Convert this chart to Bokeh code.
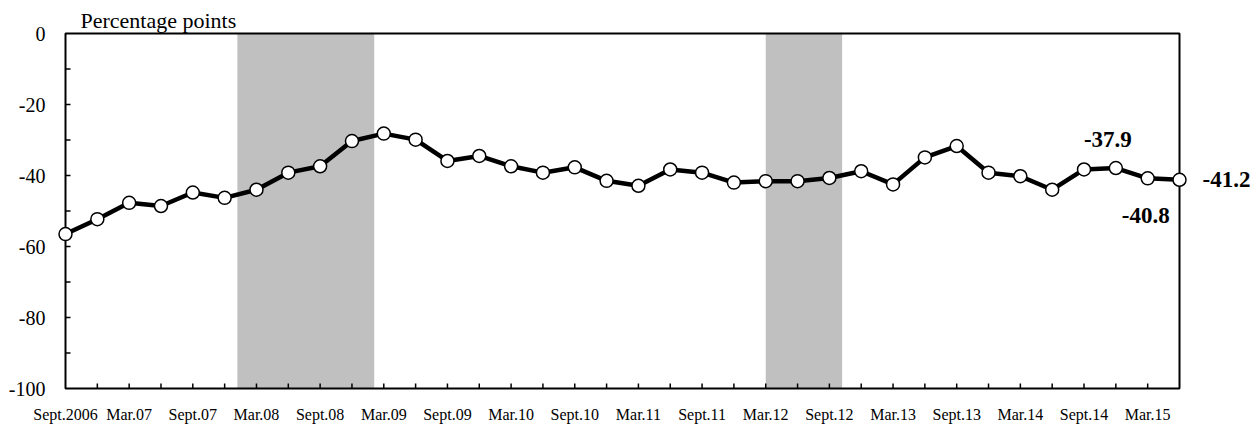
from math import pi

from bokeh.plotting import figure
from bokeh.models import ColumnDataSource, Range1d
from bokeh.core.properties import value
from bokeh.embed import file_html
from bokeh.resources import INLINE

# quarterly, Sept.2006 .. June 2015
tick_labels = ["Sept.2006", "Mar.07", "Sept.07", "Mar.08", "Sept.08", "Mar.09",
               "Sept.09", "Mar.10", "Sept.10", "Mar.11", "Sept.11", "Mar.12",
               "Sept.12", "Mar.13", "Sept.13", "Mar.14", "Sept.14", "Mar.15"]
values = [-56.5, -52.3, -47.7, -48.6, -44.8, -46.3, -44.0, -39.2, -37.4, -30.3,
          -28.2, -29.9, -35.9, -34.5, -37.4, -39.2, -37.7, -41.5, -42.9, -38.3,
          -39.2, -42.0, -41.6, -41.6, -40.7, -38.8, -42.5, -34.9, -31.7, -39.2,
          -40.2, -44.0, -38.3, -37.9, -40.8, -41.2]
# shaded periods, in quarters from Sept.2006
shade_start = [5.4, 22.0]
shade_end = [9.7, 24.4]
y_ticks = [-100, -80, -60, -40, -20, 0]

FONT = value("Liberation Serif")
W, H = 1250, 428
# plot box in pixels (left, right, top, bottom)
BL, BR, BT, BB = 65, 1179, 33, 388

n = len(values)
xs = list(range(n))
y_lo, y_hi = y_ticks[0], y_ticks[-1]

# axes are drawn by hand so nothing at the box edge gets clipped
ppx = (BR - BL) / (n - 1)
ppy = (BB - BT) / (y_hi - y_lo)
x_range = Range1d(-BL / ppx, (n - 1) + (W - BR) / ppx)
y_range = Range1d(y_lo - (H - BB) / ppy, y_hi + BT / ppy)

p = figure(width=W, height=H, output_backend="svg", toolbar_location=None,
           x_range=x_range, y_range=y_range, x_axis_type=None,
           y_axis_type=None, min_border=0)
p.outline_line_color = None
p.grid.visible = False
p.background_fill_color = "white"
p.border_fill_color = "white"

p.quad(left=shade_start, right=shade_end, bottom=y_lo, top=y_hi,
       fill_color="#C0C0C0", line_color=None)

# box
p.quad(left=0, right=n - 1, bottom=y_lo, top=y_hi, fill_color=None,
       line_color="black", line_width=2)

# ticks (inside)
p.ray(x=xs[1:-1], y=y_lo, length=5, length_units="screen", angle=pi / 2,
      line_color="black", line_width=1.5)
y_minor = [t + 10 for t in y_ticks[:-1]]
p.ray(x=0, y=y_ticks[1:-1] + y_minor, length=5, length_units="screen",
      angle=0, line_color="black", line_width=1.5)

# tick labels
even = xs[0::2][:len(tick_labels)]
p.text(x=even, y=y_lo, text=tick_labels, y_offset=17, text_align="center",
       text_baseline="top", text_font=FONT, text_font_size="16px",
       text_color="black")
p.text(x=0, y=y_ticks, text=[str(t) for t in y_ticks], x_offset=-20,
       text_align="right", text_baseline="middle", text_font=FONT,
       text_font_size="20px", text_color="black")
p.text(x=0, y=y_hi, text=["Percentage points"], x_offset=15, y_offset=-13,
       text_align="left", text_baseline="alphabetic", text_font=FONT,
       text_font_size="22px", text_color="black")

src = ColumnDataSource(dict(x=xs, y=values))
p.line("x", "y", source=src, line_color="black", line_width=4.5)
p.scatter("x", "y", source=src, size=13, fill_color="white",
          line_color="black", line_width=1.5)

# value call-outs for the last three quarters
for i, dx, dy, align in [(n - 3, -8, -29, "center"), (n - 2, -2, 37, "center"),
                         (n - 1, 23, 0, "left")]:
    p.text(x=xs[i], y=values[i], text=[f"{values[i]:.1f}"], x_offset=dx,
           y_offset=dy, text_align=align, text_baseline="middle",
           text_font=FONT, text_font_size="23px", text_font_style="bold",
           text_color="black")

open("out.html", "w").write(file_html(p, INLINE))
